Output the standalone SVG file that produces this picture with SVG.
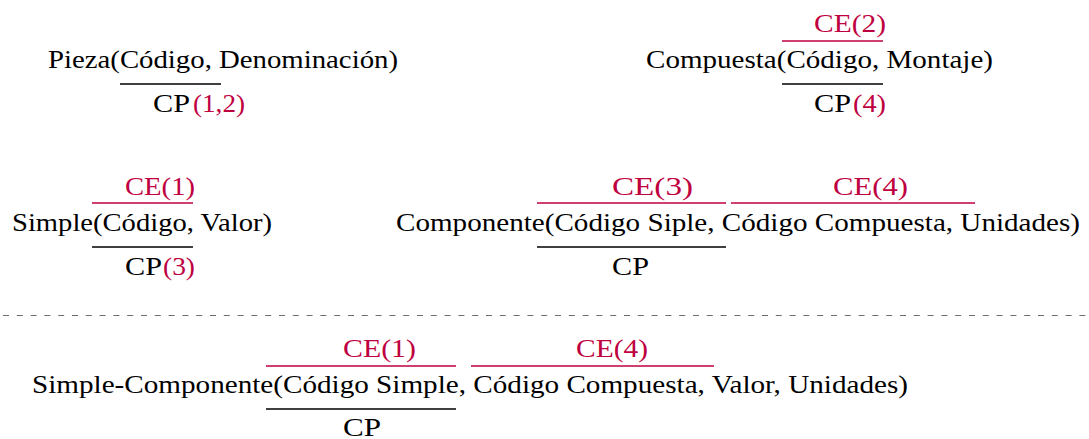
<svg xmlns="http://www.w3.org/2000/svg" width="1089" height="439" viewBox="0 0 1089 439">
<style>
.t{font-family:'Liberation Serif','DejaVu Serif',serif;font-size:25px;fill:#000}
.r{fill:#bf0040}
.lr{stroke:#bf0040;stroke-width:1.5}
.lb{stroke:#000;stroke-width:1.5}
.dash{stroke:#6e6e6e;stroke-width:1.2;stroke-dasharray:6 7.8}
</style>
<rect width="1089" height="439" fill="#fff"/>
<g font-family="Liberation Serif" font-size="25">
<g id="pieza">
<text class="t" x="48" y="68" textLength="350" lengthAdjust="spacingAndGlyphs">Pieza(Código, Denominación)</text>
<line class="lb" x1="120" y1="84" x2="221" y2="84"/>
<text class="t" x="153" y="112" textLength="37" lengthAdjust="spacingAndGlyphs">CP</text>
<text class="t r" x="193" y="112" textLength="52" lengthAdjust="spacingAndGlyphs">(1,2)</text>
</g>
<g id="compuesta">
<text class="t r" x="814" y="32" textLength="72" lengthAdjust="spacingAndGlyphs">CE(2)</text>
<line class="lr" x1="782" y1="41" x2="883" y2="41"/>
<text class="t" x="646" y="68" textLength="347" lengthAdjust="spacingAndGlyphs">Compuesta(Código, Montaje)</text>
<line class="lb" x1="782" y1="84" x2="883" y2="84"/>
<text class="t" x="814" y="112" textLength="37" lengthAdjust="spacingAndGlyphs">CP</text>
<text class="t r" x="853" y="112" textLength="33" lengthAdjust="spacingAndGlyphs">(4)</text>
</g>
<g id="simple">
<text class="t r" x="125" y="195" textLength="70" lengthAdjust="spacingAndGlyphs">CE(1)</text>
<line class="lr" x1="92" y1="203" x2="193" y2="203"/>
<text class="t" x="12" y="231" textLength="260" lengthAdjust="spacingAndGlyphs">Simple(Código, Valor)</text>
<line class="lb" x1="92" y1="247" x2="193" y2="247"/>
<text class="t" x="125" y="275" textLength="37" lengthAdjust="spacingAndGlyphs">CP</text>
<text class="t r" x="163" y="275" textLength="32" lengthAdjust="spacingAndGlyphs">(3)</text>
</g>
<g id="componente">
<text class="t r" x="612" y="195" textLength="81" lengthAdjust="spacingAndGlyphs">CE(3)</text>
<text class="t r" x="833" y="195" textLength="75" lengthAdjust="spacingAndGlyphs">CE(4)</text>
<line class="lr" x1="537" y1="203" x2="726" y2="203"/>
<line class="lr" x1="731" y1="203" x2="975" y2="203"/>
<text class="t" x="396" y="231" textLength="684" lengthAdjust="spacingAndGlyphs">Componente(Código Siple, Código Compuesta, Unidades)</text>
<line class="lb" x1="537" y1="247" x2="726" y2="247"/>
<text class="t" x="612" y="275" textLength="37" lengthAdjust="spacingAndGlyphs">CP</text>
</g>
<g id="connectors">
<line class="dash" x1="3" y1="315.5" x2="1086" y2="315.5"/>
</g>
<g id="simple-componente">
<text class="t r" x="343" y="357" textLength="73" lengthAdjust="spacingAndGlyphs">CE(1)</text>
<text class="t r" x="576" y="357" textLength="72" lengthAdjust="spacingAndGlyphs">CE(4)</text>
<line class="lr" x1="266" y1="366" x2="456" y2="366"/>
<line class="lr" x1="471" y1="366" x2="714" y2="366"/>
<text class="t" x="32" y="393" textLength="876" lengthAdjust="spacingAndGlyphs">Simple-Componente(Código Simple, Código Compuesta, Valor, Unidades)</text>
<line class="lb" x1="266" y1="409" x2="456" y2="409"/>
<text class="t" x="343" y="436" textLength="38" lengthAdjust="spacingAndGlyphs">CP</text>
</g>
</g>
</svg>
